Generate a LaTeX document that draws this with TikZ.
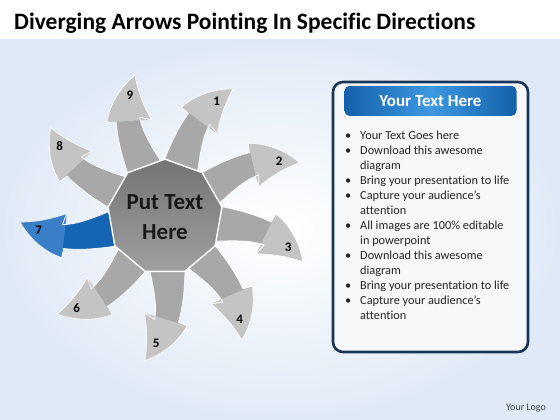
\documentclass[tikz,border=0pt]{standalone}
\usepackage{fontspec}
\setmainfont{Carlito}[Ligatures=NoCommon]
\usetikzlibrary{shapes.geometric,positioning}

\definecolor{shaftgray}{RGB}{168,168,168}
\definecolor{headgray}{RGB}{196,196,196}
\definecolor{shaftblue}{RGB}{22,100,180}
\definecolor{headblue}{RGB}{58,128,200}
\definecolor{hubgray}{RGB}{136,136,136}
\definecolor{panelnavy}{RGB}{24,54,88}
\definecolor{panelfill}{RGB}{246,247,249}
\definecolor{headerblue}{RGB}{20,96,170}
\definecolor{headerlight}{RGB}{62,152,226}
\definecolor{bgblue}{RGB}{224,234,246}

% outline of one bent arrow, local frame, base at the hub centre
\newcommand{\bentarrowpath}{(0,18) .. controls (45,14) and (82,7) .. (106,-5) -- (111,3)
    .. controls (125,-8) and (135,-26) .. (138,-45)
    .. controls (122,-39) and (105,-37) .. (91,-37) -- (99,-28)
    .. controls (78,-20) and (45,-26) .. (0,-26) -- cycle}
\newcommand{\bentheadpath}{(111,3) .. controls (125,-8) and (135,-26) .. (138,-45)
    .. controls (122,-39) and (105,-37) .. (91,-37) -- cycle}

\begin{document}
\begin{tikzpicture}[
    x=1pt, y=1pt,
    hub/.style={regular polygon, regular polygon sides=9, minimum size=114pt, draw=white, line width=1.4pt,
        top color=hubgray!85!black, bottom color=hubgray!80!white, text=black!90,
        font=\fontsize{23}{30}\selectfont\bfseries, align=center, inner sep=0pt},
    numlabel/.style={font=\fontsize{13}{13}\selectfont\bfseries, inner sep=0pt},
    panel/.style={draw=panelnavy, line width=2.6pt, fill=panelfill, rounded corners=10pt,
        minimum width=195pt, minimum height=270pt},
    headerbox/.style={rounded corners=5pt, left color=headerblue, right color=headerblue, middle color=headerlight,
        minimum width=172pt, minimum height=30pt, text=white, font=\fontsize{17}{17}\selectfont\bfseries},
    bullets/.style={font=\fontsize{12.3}{15}\selectfont, align=left, inner sep=0pt, anchor=north west, text=black!85}
]
    \useasboundingbox (0,0) rectangle (560,420);
    \fill[white] (0,0) rectangle (560,420);
    \shade[inner color=white, outer color=bgblue] (0,0) rectangle (560,380);

    \node[anchor=west, inner sep=0pt, font=\fontsize{23.5}{23.5}\selectfont\bfseries] (title) at (14,397)
        {Diverging Arrows Pointing In Specific Directions};

    % arrows round the hub
    \coordinate (c) at (165,203);
    \foreach \k/\sc/\hc in {1/shaftgray/headgray, 2/shaftgray/headgray, 3/shaftgray/headgray,
        4/shaftgray/headgray, 5/shaftgray/headgray, 6/shaftgray/headgray,
        7/shaftblue/headblue, 8/shaftgray/headgray, 9/shaftgray/headgray} {
        \begin{scope}[shift={(c)}, rotate={40*(3-\k)}]
            \fill[\sc] \bentarrowpath;
            \fill[\hc] \bentheadpath;
            \draw[white, line width=0.8pt] \bentarrowpath;
            \node[numlabel] (n\k) at (-14:127) {\k};
        \end{scope}
    }
    \node[hub] (hub) at (c) {Put Text\\Here};

    % text panel
    \node[panel] (panel) at (430.5,203) {};
    \node[headerbox, below=5pt of panel.north] (header) {Your Text Here};
    \node[bullets] (list) at (345,289) {%
        \makebox[15pt][l]{•}Your Text Goes here\\
        \makebox[15pt][l]{•}Download this awesome\\
        \hspace*{15pt}diagram\\
        \makebox[15pt][l]{•}Bring your presentation to life\\
        \makebox[15pt][l]{•}Capture your audience’s\\
        \hspace*{15pt}attention\\
        \makebox[15pt][l]{•}All images are 100\% editable\\
        \hspace*{15pt}in powerpoint\\
        \makebox[15pt][l]{•}Download this awesome\\
        \hspace*{15pt}diagram\\
        \makebox[15pt][l]{•}Bring your presentation to life\\
        \makebox[15pt][l]{•}Capture your audience’s\\
        \hspace*{15pt}attention};

    \node[font=\fontsize{10}{10}\selectfont, text=black!75] (logo) at (526,12) {Your Logo};
\end{tikzpicture}
\end{document}
